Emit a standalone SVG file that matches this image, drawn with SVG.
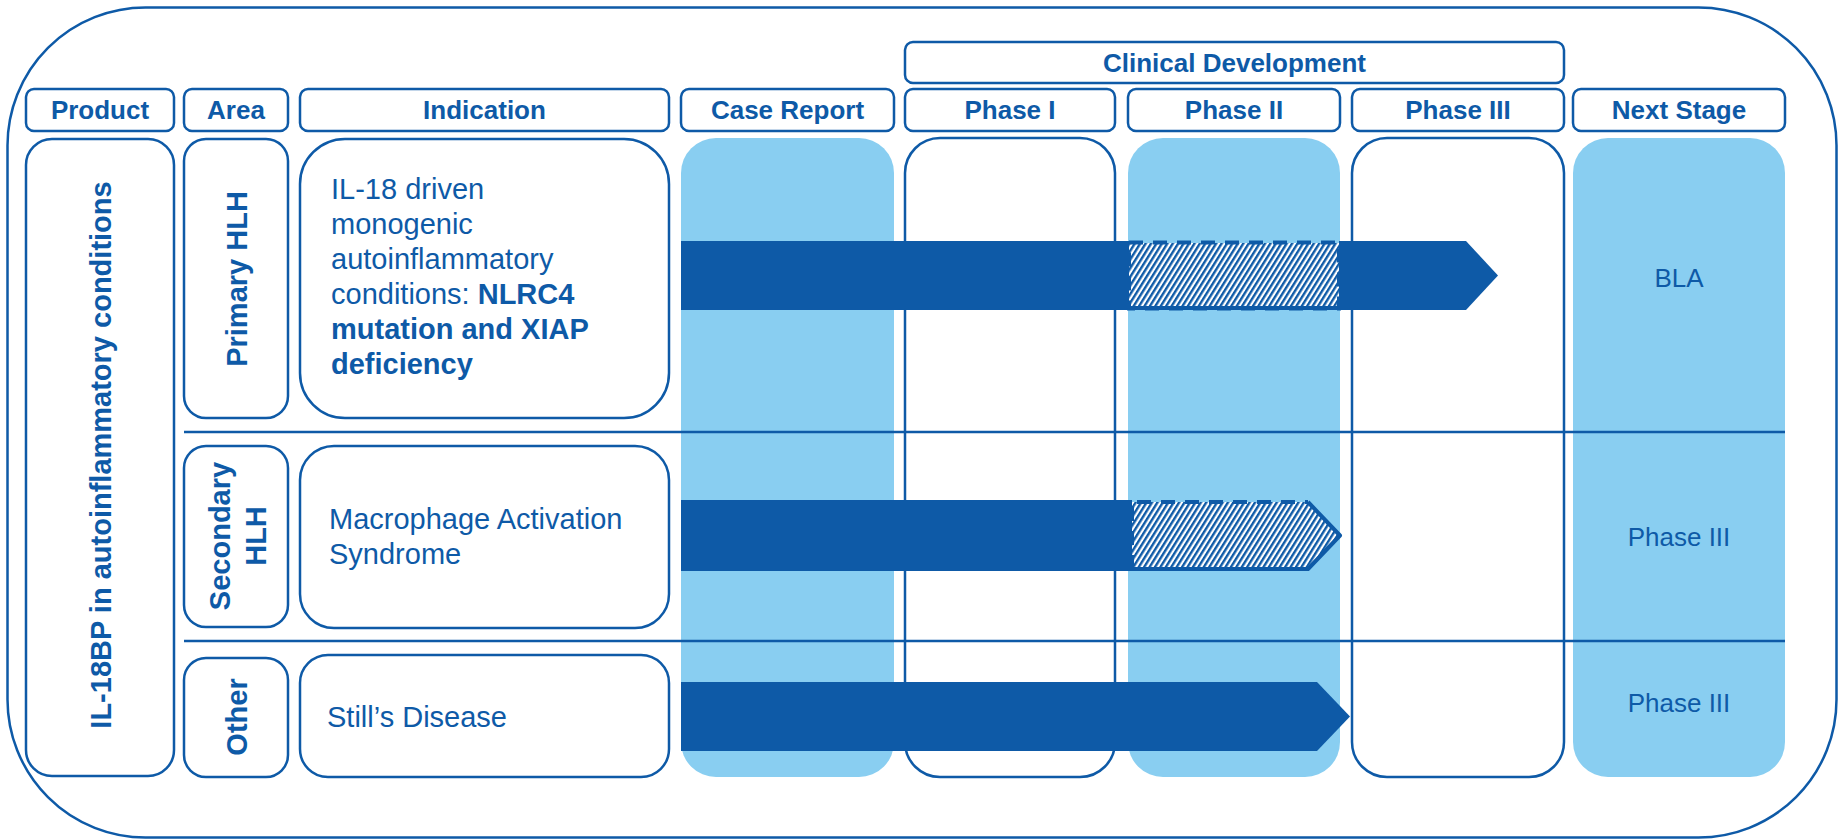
<svg xmlns="http://www.w3.org/2000/svg" width="1841" height="839" viewBox="0 0 1841 839">
<style>
.ln{fill:none;stroke:#0E5AA7;stroke-width:2.5}
.box{fill:#fff;stroke:#0E5AA7;stroke-width:2.5}
.lb{fill:#89CEF1}
.dk{fill:#0E5AA7}
text{font-family:"Liberation Sans",Arial,sans-serif;fill:#0E5AA7}
.h{font-size:26px;font-weight:bold;text-anchor:middle}
.v{font-size:29px;font-weight:bold;text-anchor:middle}
.t{font-size:29px}
.n{font-size:26px;text-anchor:middle}
.b{font-weight:bold}
.dash{fill:none;stroke:#0E5AA7;stroke-width:4;stroke-dasharray:14 10}
.sol{fill:none;stroke:#0E5AA7;stroke-width:4;stroke-linejoin:round}
</style>
<defs>
<pattern id="hatch" patternUnits="userSpaceOnUse" width="4.6" height="10" patternTransform="rotate(32)">
<rect width="4.6" height="10" fill="#fff"/>
<rect width="2.4" height="10" fill="#0E5AA7"/>
</pattern>
</defs>

<g id="frame">
<rect x="7.5" y="7.5" width="1829" height="830" rx="138" ry="138" class="ln"/>
</g>

<g id="headers">
<g id="h-clinical"><rect x="905" y="42" width="659" height="41" rx="8" class="box"/><text class="h" x="1234.5" y="72">Clinical Development</text></g>
<g id="h-product"><rect x="26" y="89" width="148" height="42" rx="8" class="box"/><text class="h" x="100" y="119">Product</text></g>
<g id="h-area"><rect x="184" y="89" width="104" height="42" rx="8" class="box"/><text class="h" x="236" y="119">Area</text></g>
<g id="h-indication"><rect x="300" y="89" width="369" height="42" rx="8" class="box"/><text class="h" x="484.5" y="119">Indication</text></g>
<g id="h-case"><rect x="681" y="89" width="213" height="42" rx="8" class="box"/><text class="h" x="787.5" y="119">Case Report</text></g>
<g id="h-p1"><rect x="905" y="89" width="210" height="42" rx="8" class="box"/><text class="h" x="1010" y="119">Phase I</text></g>
<g id="h-p2"><rect x="1128" y="89" width="212" height="42" rx="8" class="box"/><text class="h" x="1234" y="119">Phase II</text></g>
<g id="h-p3"><rect x="1352" y="89" width="212" height="42" rx="8" class="box"/><text class="h" x="1458" y="119">Phase III</text></g>
<g id="h-next"><rect x="1573" y="89" width="212" height="42" rx="8" class="box"/><text class="h" x="1679" y="119">Next Stage</text></g>
</g>

<g id="columns">
<rect id="col-case" x="681" y="138" width="213" height="639" rx="35" class="lb"/>
<rect id="col-p1" x="905" y="138" width="210" height="639" rx="35" class="box"/>
<rect id="col-p2" x="1128" y="138" width="212" height="639" rx="35" class="lb"/>
<rect id="col-p3" x="1352" y="138" width="212" height="639" rx="35" class="box"/>
<rect id="col-next" x="1573" y="138" width="212" height="639" rx="35" class="lb"/>
</g>

<g id="dividers">
<line x1="184" y1="432" x2="1785" y2="432" class="ln"/>
<line x1="184" y1="641" x2="1785" y2="641" class="ln"/>
</g>

<g id="product">
<rect x="26" y="139" width="148" height="637" rx="26" class="box"/>
<text class="v" transform="translate(111,455) rotate(-90)">IL-18BP in autoinflammatory conditions</text>
</g>

<g id="area-primary">
<rect x="184" y="139" width="104" height="279" rx="22" class="box"/>
<text class="v" transform="translate(247,279) rotate(-90)">Primary HLH</text>
</g>
<g id="area-secondary">
<rect x="184" y="446" width="104" height="181" rx="22" class="box"/>
<text class="v" transform="translate(230,536) rotate(-90)">Secondary</text>
<text class="v" transform="translate(266,536) rotate(-90)">HLH</text>
</g>
<g id="area-other">
<rect x="184" y="658" width="104" height="119" rx="22" class="box"/>
<text class="v" transform="translate(247,717) rotate(-90)">Other</text>
</g>

<g id="ind-primary">
<rect x="300" y="139" width="369" height="279" rx="45" class="box"/>
<text class="t" x="331" y="199">IL-18 driven</text>
<text class="t" x="331" y="234">monogenic</text>
<text class="t" x="331" y="269">autoinflammatory</text>
<text class="t" x="331" y="304">conditions: <tspan class="b">NLRC4</tspan></text>
<text class="t b" x="331" y="339">mutation and XIAP</text>
<text class="t b" x="331" y="374">deficiency</text>
</g>
<g id="ind-secondary">
<rect x="300" y="446" width="369" height="182" rx="34" class="box"/>
<text class="t" x="329" y="529">Macrophage Activation</text>
<text class="t" x="329" y="564">Syndrome</text>
</g>
<g id="ind-other">
<rect x="300" y="655" width="369" height="122" rx="28" class="box"/>
<text class="t" x="327" y="727">Still’s Disease</text>
</g>

<g id="next-labels">
<text class="n" x="1679" y="287">BLA</text>
<text class="n" x="1679" y="546">Phase III</text>
<text class="n" x="1679" y="712">Phase III</text>
</g>

<g id="connectors">
<g id="bar-primary">
<polygon class="dk" points="681,241 1129,241 1129,310 681,310"/>
<polygon class="dk" points="1339,241 1466,241 1498,275.5 1466,310 1339,310"/>
<rect x="1129" y="243" width="210" height="65" fill="url(#hatch)"/>
<rect x="1129" y="242.5" width="210" height="66" class="dash"/>
<line x1="1129" y1="308" x2="1339" y2="308" class="sol"/>
</g>
<g id="bar-secondary">
<polygon class="dk" points="681,500 1132,500 1132,571 681,571"/>
<polygon fill="url(#hatch)" points="1132,502 1308,502 1340,535.5 1308,569 1132,569"/>
<path d="M1308,502 L1340,535.5 L1308,569 L1132,569" class="sol"/>
<path d="M1132,569 L1132,502 L1308,502" class="dash"/>
</g>
<g id="bar-other">
<polygon class="dk" points="681,682 1317,682 1350,716.5 1317,751 681,751"/>
</g>
</g>
</svg>
